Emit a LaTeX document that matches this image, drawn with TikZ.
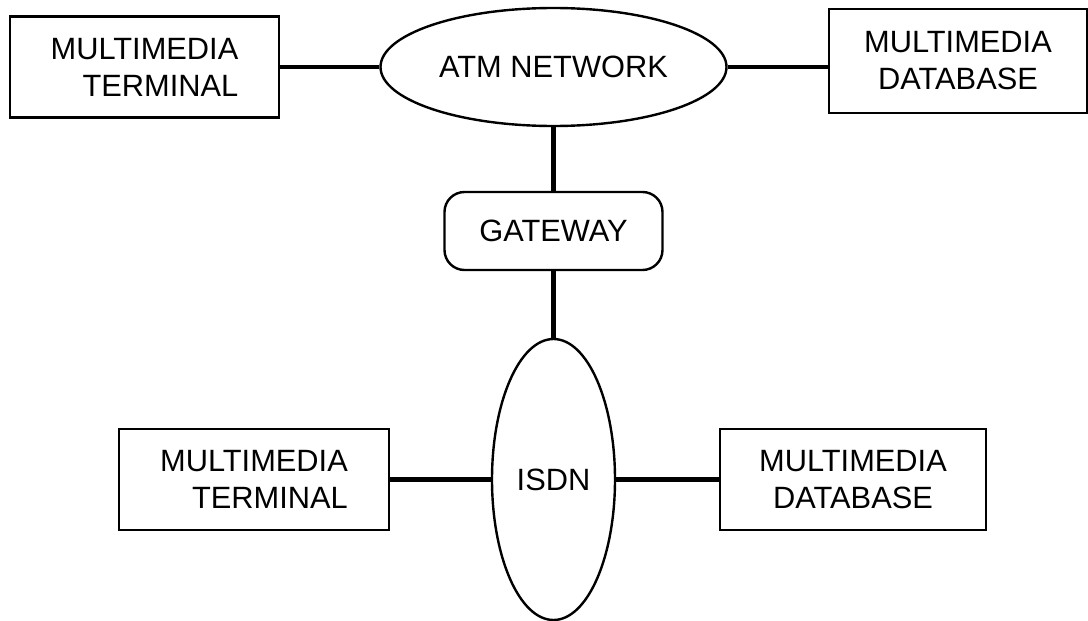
\documentclass[tikz,border=0pt]{standalone}
\usepackage{fontspec}
\setmainfont{Liberation Sans}
\usetikzlibrary{shapes.geometric}
\begin{document}
\begin{tikzpicture}[x=1pt,y=-1pt,
  every node/.style={font=\fontsize{30.8}{37}\selectfont, inner sep=0pt},
  unitbox/.style={draw, rectangle, line width=2.6pt},
  netcloud/.style={draw, ellipse, line width=2.4pt},
  gatebox/.style={draw, rectangle, rounded corners=20pt, line width=2.4pt},
  link/.style={line width=4.5pt}]
\useasboundingbox (0,0) rectangle (1088,621);
% ATM side
\node[netcloud, minimum width=346pt, minimum height=118pt] (atm) at (553.5,67) {ATM NETWORK};
\node[unitbox, minimum width=269pt, minimum height=101pt, align=right] (tl) at (144.5,67) {MULTIMEDIA\\TERMINAL};
\node[unitbox, minimum width=258pt, minimum height=104pt, align=center] (tr) at (958,61) {MULTIMEDIA\\DATABASE};
% gateway between the networks
\node[gatebox, minimum width=218pt, minimum height=78pt] (gw) at (553.5,231) {GATEWAY};
% ISDN side
\node[netcloud, minimum width=123pt, minimum height=281pt] (isdn) at (553.5,479.5) {ISDN};
\node[unitbox, minimum width=270pt, minimum height=101pt, align=right] (bl) at (254,479.5) {MULTIMEDIA\\TERMINAL};
\node[unitbox, minimum width=266pt, minimum height=101pt, align=center] (br) at (853,479.5) {MULTIMEDIA\\DATABASE};
% links
\draw[link] (tl.east) -- (atm.west);
\draw[link] (atm.east) -- (tr.west |- atm.east);
\draw[link] (atm.south) -- (gw.north);
\draw[link] (gw.south) -- (isdn.north);
\draw[link] (bl.east) -- (isdn.west);
\draw[link] (isdn.east) -- (br.west);
\end{tikzpicture}
\end{document}
